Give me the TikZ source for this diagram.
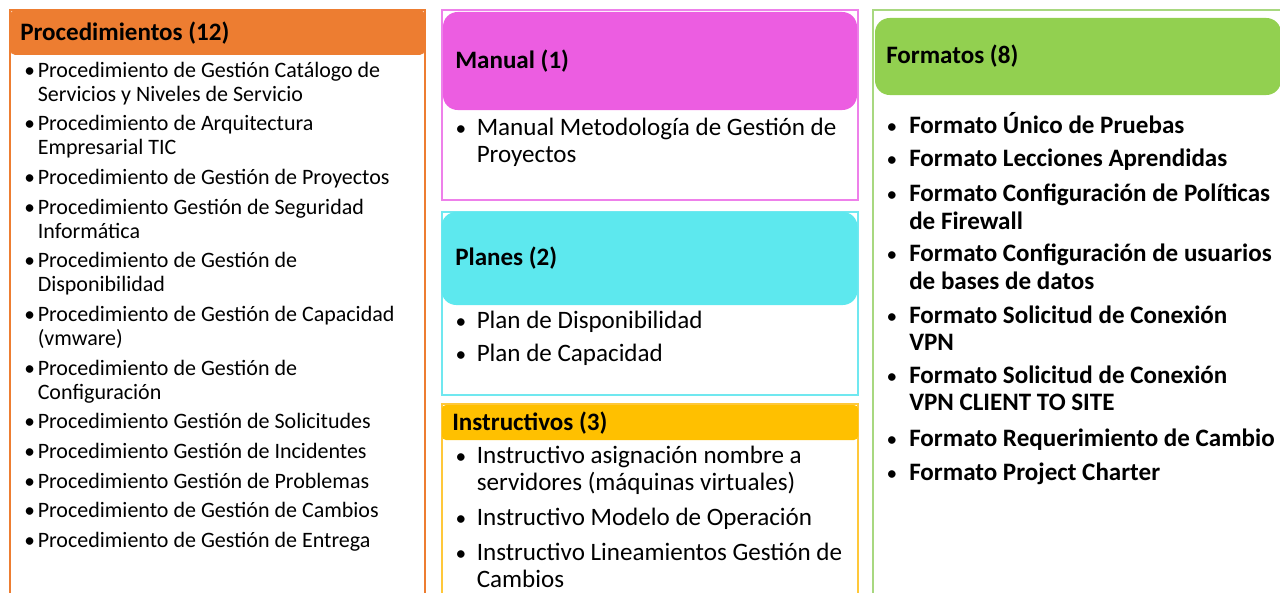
\documentclass[tikz,border=0pt]{standalone}
\usepackage{fontspec}
\setmainfont{Carlito}
\usetikzlibrary{positioning}
\definecolor{procorange}{HTML}{ED7D31}
\definecolor{manualpink}{HTML}{EC5DE1}
\definecolor{manualedge}{HTML}{EE80EA}
\definecolor{planescyan}{HTML}{5DE8EE}
\definecolor{planesedge}{HTML}{70E8F0}
\definecolor{instryellow}{HTML}{FFC000}
\definecolor{instredge}{HTML}{FFC83A}
\definecolor{formgreen}{HTML}{92D050}
\definecolor{formedge}{HTML}{A8D880}
\tikzset{
    frame/.style = {line width=1.5pt},
    headtext/.style = {anchor=base west, inner sep=0pt, font=\fontsize{18.8}{22}\selectfont\bfseries},
    proctext/.style = {anchor=base west, align=left, inner sep=0pt, font=\fontsize{16.5}{18}\selectfont},
    midtext/.style = {anchor=base west, align=left, inner sep=0pt, font=\fontsize{18.8}{20.25}\selectfont},
    formtext/.style = {anchor=base west, align=left, inner sep=0pt, font=\fontsize{18.8}{20.6}\selectfont\bfseries},
    dot/.style = {anchor=base, inner sep=0pt, font=\fontsize{16}{18}\selectfont}
}

\begin{document}
\begin{tikzpicture}[x=0.75pt,y=-0.75pt]
  \useasboundingbox (0,0) rectangle (1280,592);
  \clip (0,0) rectangle (1280,592);

  % Procedimientos (\l = extra lines, text node sits on its last baseline)
  \draw[frame,procorange] (9.5,10) rectangle (425,640);
  \fill[procorange,rounded corners=4pt] (10,10) rectangle (425,55);
  \node[headtext] (prochead) at (20,40.7) {Procedimientos (12)};
  \foreach \n/\y/\l/\t in {
      1/77.7/1/{Procedimiento de Gestión Catálogo de\\Servicios y Niveles de Servicio},
      2/130.7/1/{Procedimiento de Arquitectura\\Empresarial TIC},
      3/184.5/0/{Procedimiento de Gestión de Proyectos},
      4/214/1/{Procedimiento Gestión de Seguridad\\Informática},
      5/267.5/1/{Procedimiento de Gestión de\\Disponibilidad},
      6/321/1/{Procedimiento de Gestión de Capacidad\\(vmware)},
      7/375/1/{Procedimiento de Gestión de\\Configuración},
      8/428.5/0/{Procedimiento Gestión de Solicitudes},
      9/458/0/{Procedimiento Gestión de Incidentes},
      10/488/0/{Procedimiento Gestión de Problemas},
      11/517.5/0/{Procedimiento de Gestión de Cambios},
      12/547/0/{Procedimiento de Gestión de Entrega}}
  {
    \node[dot] (procdot\n) at (29.7,\y) {\textbullet};
    \node[proctext] (proc\n) at (37.5,{\y+\l*24}) {\t};
  }

  % Manual
  \draw[frame,manualedge] (442,10) rectangle (858,199.5);
  \fill[manualpink,rounded corners=11pt] (443,12) rectangle (857,110);
  \node[headtext] (manualhead) at (455,68.3) {Manual (1)};
  \node[dot] (manualdot1) at (461,135) {\textbullet};
  \node[midtext] (manual1) at (476.5,162) {Manual Metodología de Gestión de\\Proyectos};

  % Planes
  \draw[frame,planesedge] (442,212) rectangle (858,394.5);
  \fill[planescyan,rounded corners=11pt] (441.5,212) rectangle (857.5,305);
  \node[headtext] (planeshead) at (455,265.5) {Planes (2)};
  \foreach \n/\y/\t in {1/328.3/{Plan de Disponibilidad}, 2/361.7/{Plan de Capacidad}}
  {
    \node[dot] (planesdot\n) at (461,\y) {\textbullet};
    \node[midtext] (planes\n) at (476.5,\y) {\t};
  }

  % Instructivos
  \draw[frame,instredge] (442,404) rectangle (858,640);
  \fill[instryellow,rounded corners=3pt] (442,405) rectangle (858,440);
  \node[headtext] (instrhead) at (452,430) {Instructivos (3)};
  \foreach \n/\y/\l/\t in {
      1/463.3/1/{Instructivo asignación nombre a\\servidores (máquinas virtuales)},
      2/525.7/0/{Instructivo Modelo de Operación},
      3/560/1/{Instructivo Lineamientos Gestión de\\Cambios}}
  {
    \node[dot] (instrdot\n) at (461,\y) {\textbullet};
    \node[midtext] (instr\n) at (476.5,{\y+\l*27}) {\t};
  }

  % Formatos
  \draw[frame,formedge] (873,10) rectangle (1290,640);
  \fill[formgreen,rounded corners=11pt] (875,18) rectangle (1281,95);
  \node[headtext] (formhead) at (886,63.3) {Formatos (8)};
  \foreach \n/\y/\l/\t in {
      1/133.3/0/{Formato Único de Pruebas},
      2/166.7/0/{Formato Lecciones Aprendidas},
      3/201.7/1/{Formato Configuración de Políticas\\de Firewall},
      4/261.7/1/{Formato Configuración de usuarios\\de bases de datos},
      5/323.3/1/{Formato Solicitud de Conexión\\VPN},
      6/383.3/1/{Formato Solicitud de Conexión\\VPN CLIENT TO SITE},
      7/446.7/0/{Formato Requerimiento de Cambio},
      8/480/0/{Formato Project Charter}}
  {
    \node[dot] (formdot\n) at (892,\y) {\textbullet};
    \node[formtext] (form\n) at (909,{\y+\l*27.5}) {\t};
  }
\end{tikzpicture}
\end{document}
